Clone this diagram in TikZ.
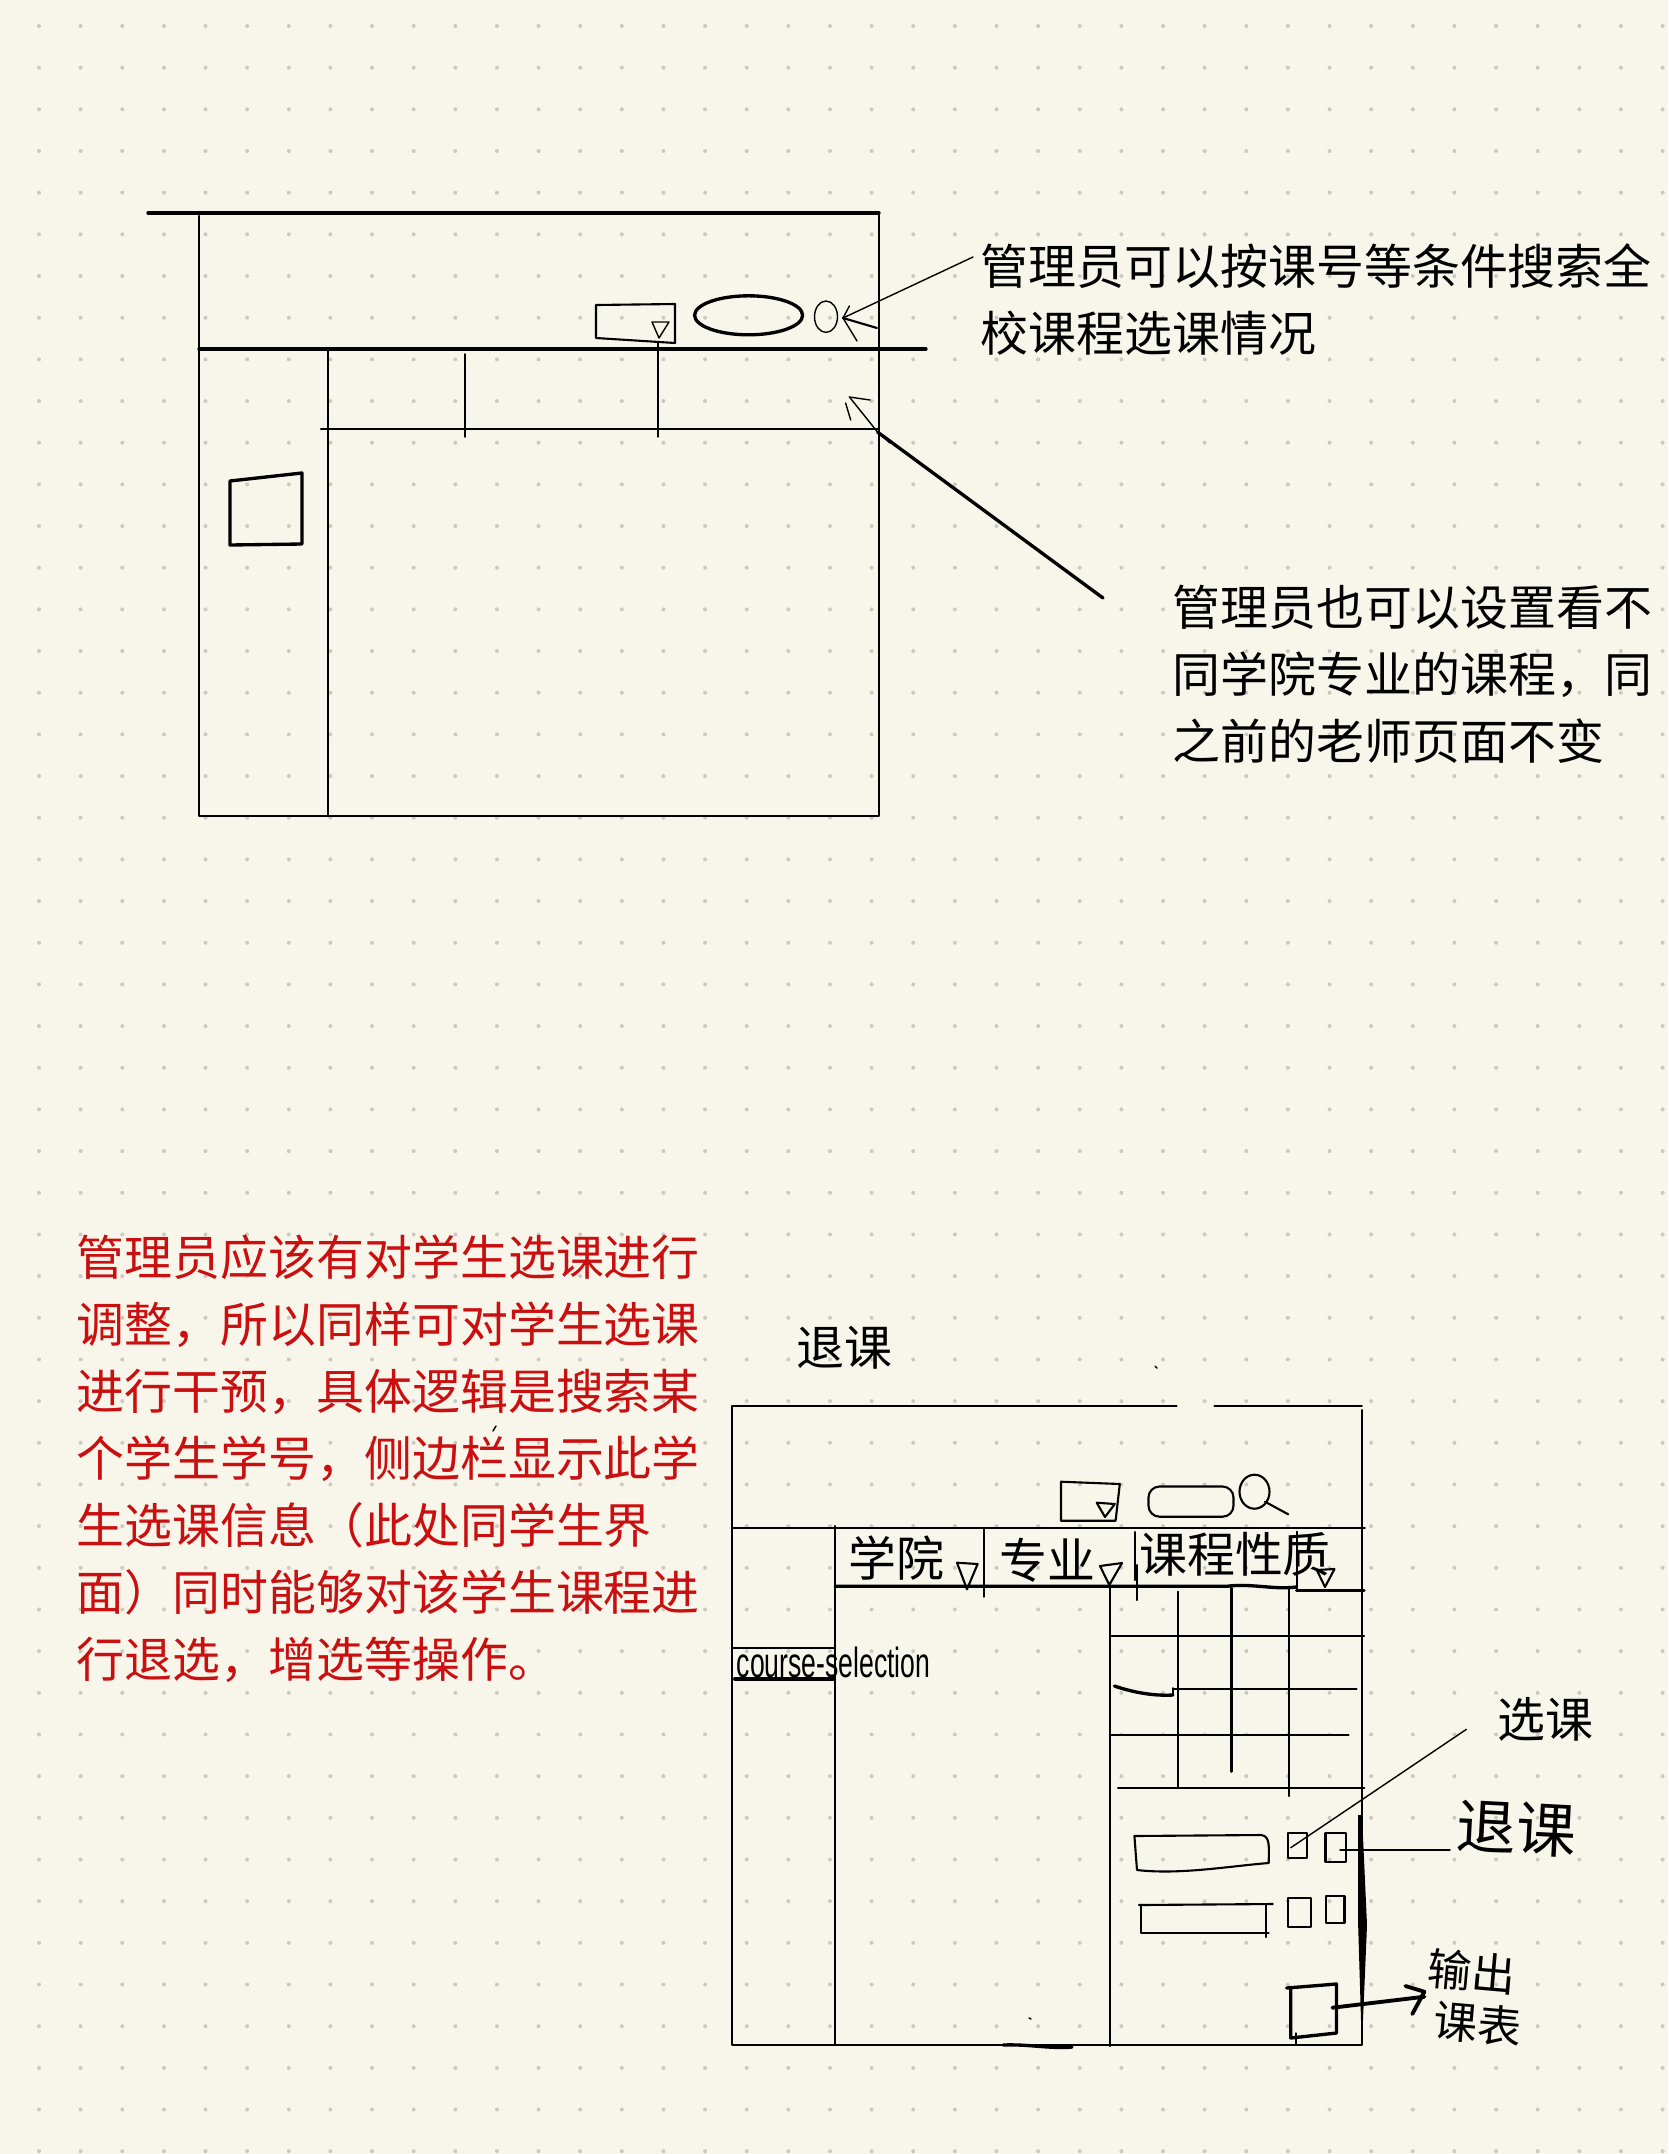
\documentclass[tikz,border=0pt]{standalone}
\usepackage{fontspec}
\setmainfont{Noto Sans CJK SC}
\newfontfamily\mainlatine{Liberation Sans}
\definecolor{fondpapier}{HTML}{F8F6EA}
\definecolor{pointpapier}{HTML}{CBC9C0}
\definecolor{rougenote}{HTML}{C90F0F}
\tikzset{
  trait/.style={line width=0.6pt,line cap=round,line join=round},
  traitfin/.style={line width=0.4pt,line cap=round,line join=round},
  traitmoyen/.style={line width=0.78pt,line cap=round,line join=round},
  traitfort/.style={line width=0.95pt,line cap=round,line join=round},
  note/.style={anchor=west,align=left,inner sep=0pt,
    font=\fontsize{13.63}{19.05}\selectfont},
  manuscrit/.style={inner sep=0pt,font=\fontsize{12.5}{12.5}\selectfont}
}
\begin{document}
\begin{tikzpicture}[x=0.01cm,y=-0.01cm]

% Fond de papier
\fill[fondpapier] (0,0) rectangle (1668,2154);
\useasboundingbox (0,0) rectangle (1668,2154);
\foreach \i in {0,...,39}
{
    \foreach \j in {0,...,51}
    {
        \fill[pointpapier]
        ({39+41.63*\i},{26+41.67*\j})
        circle (2);
    }
}

% Premiere page
\draw[traitfort]
(148,213)
--
(879,213);

\draw[traitmoyen]
(879,213)
--
(879,816)
--
(199,816)
--
(199,216);

\draw[traitfort]
(199,349)
--
(926,349);

\draw[traitmoyen]
(328,349)
--
(328,816);

\draw[trait]
(321,429)
--
(879,429);

\draw[traitfin] (465,354) -- (465,437);
\draw[traitfin] (658,342) -- (658,437);

% Menu et recherche
\draw[trait]
(596,305)
--
(675,304)
--
(675,343)
--
(596,338)
--
cycle;

\draw[traitfin]
(652,322)
--
(669,322)
--
(659,338)
--
cycle;

\draw[traitfort]
(748.6,315.3)
ellipse (54 and 19.5);

\draw[traitfin]
(826,316.7)
ellipse (11.5 and 15.7);

% Carre du menu lateral
\draw[traitfort]
(230,481)
--
(302,473)
--
(302,544)
--
(230,545)
--
cycle;

% Notes
\node[note] (noteRecherche) at (980,300)
{管理员可以按课号等条件搜索全\\校课程选课情况};

\node[note] (noteFiltre) at (1172,674)
{管理员也可以设置看不\\同学院专业的课程，同\\之前的老师页面不变};

\node[note,text=rougenote] (noteRouge) at (76,1459)
{管理员应该有对学生选课进行\\调整，所以同样可对学生选课\\进行干预，具体逻辑是搜索某\\个学生学号，侧边栏显示此学\\生选课信息（此处同学生界\\面）同时能够对该学生课程进\\行退选，增选等操作。};

% Fleches des notes
\coordinate (departRecherche) at (973,257);
\coordinate (pointeRecherche) at (843,318);
\coordinate (departFiltre) at (1103,598);
\coordinate (coinFiltre) at (877.5,432);
\coordinate (pointeFiltre) at (849.4,397);

\draw[traitfin] (departRecherche) -- (pointeRecherche);
\draw[trait] (pointeRecherche) -- (877,328);
\draw[traitfin] (pointeRecherche) -- (857,341);
\draw[traitfin] (pointeRecherche) -- (849.4,306);

\draw[traitfort] (departFiltre) -- (coinFiltre);
\draw[traitfin] (coinFiltre) -- (pointeFiltre);
\draw[traitfin] (coinFiltre) -- (890,443);
\draw[traitfin] (pointeFiltre) -- (870,400);
\draw[traitfin] (845.6,403) -- (850.7,420);

% Seconde page
\node[note] (titreRetrait) at (796,1348) {退课};

\draw[trait]
(1176.6,1405.7)
--
(732,1405.7)
--
(732,2045)
--
(1361.7,2045)
--
(1361.7,1410);

\draw[trait]
(1214.5,1405.7)
--
(1361.8,1405.7);

\draw[trait]
(732,1527.7)
--
(1364.8,1527.7);

\draw[trait]
(835.3,1526)
--
(835.3,2045);

\draw[trait]
(732,1647.7)
--
(834.5,1647.7);

\draw[traitfort]
(734.7,1679)
--
(834.5,1679);

\draw[trait]
(1110,1588)
--
(1110,2046);

% Barre des filtres
\draw[traitfort]
(835.3,1586.3)
--
(1227,1586.3)
.. controls (1250,1583) and (1275,1590) .. (1296,1587);

\draw[traitfort]
(1296.6,1590.7)
--
(1364,1590.7);

\draw[trait] (1296.6,1531.7) -- (1296.6,1590.7);
\draw[trait] (984,1529) -- (984,1596.7);
\draw[trait] (1134.6,1532) -- (1134.6,1580);
\draw[trait] (1136.7,1565) -- (1136.7,1600);

\node[note,anchor=center] (filtreCollege) at (896,1558) {学院};
\node[note,anchor=center] (filtreSpecialite) at (1047,1560) {专业};
\node[note,anchor=center] (filtreNature) at (1235,1554) {课程性质};

\foreach \a/\b/\c/\d/\e/\f in {957/1562.7/977.6/1564/967/1589.3,
    1100/1566/1122/1563/1109.3/1585,
    1316.8/1570/1334.5/1569/1325/1587}
{
    \draw[trait]
    (\a,\b)
    --
    (\c,\d)
    --
    (\e,\f)
    --
    cycle;
}

% Menu et recherche du haut
\draw[trait]
(1061,1481.7)
--
(1119.8,1484)
--
(1115.6,1520.7)
--
(1061,1520.7)
--
cycle;

\draw[trait]
(1096.7,1502.7)
--
(1114.8,1504)
--
(1105,1517)
--
cycle;

\draw[trait,rounded corners=0.11cm]
(1148.5,1486.5)
--
(1233.5,1486.5)
--
(1233.5,1516.7)
--
(1148.5,1516.7)
--
cycle;

\draw[trait]
(1254.5,1491.7)
ellipse (15 and 17);

\draw[trait]
(1265,1501.7)
--
(1288.2,1514.3);

% Grille du tableau
\foreach \x/\debut/\fin in {1177.8/1591.7/1788,1231.5/1588/1771.7,1289.4/1586.7/1796}
{
    \draw[trait] (\x,\debut) -- (\x,\fin);
}

\foreach \y/\debut/\fin in {1636/1111.7/1364,1688.7/1173/1356.5,1735/1110/1348.6,1788.3/1118/1364.4}
{
    \draw[trait] (\debut,\y) -- (\fin,\y);
}

\draw[traitfort]
(1114.4,1686)
.. controls (1135,1693) and (1155,1696) .. (1173,1695);

\draw[traitfin] (1173,1688) -- (1173,1695);

% Lignes de cours
\draw[trait]
(1134.4,1836)
--
(1261,1835)
.. controls (1270,1836) and (1269,1845) .. (1268.7,1863)
.. controls (1230,1866) and (1180,1875) .. (1137,1870)
--
cycle;

\draw[trait]
(1139,1905)
--
(1272.8,1904);

\draw[trait]
(1141,1905)
--
(1141,1932.7)
--
(1268.7,1932.7);

\draw[trait]
(1266,1905)
--
(1266,1937);

\foreach \a/\b/\c/\d in {1287.6/1833.3/1307/1858,1325.5/1833/1346/1861.7,
    1288/1898/1311/1926.7,1326/1896/1344.5/1923}
{
    \draw[trait]
    (\a,\b)
    rectangle
    (\c,\d);
}

% Bord droit repasse
\fill
(1358,1815)
--
(1362,1815)
--
(1367,1925)
--
(1363,2020)
--
(1361,2020)
--
(1358,1920)
--
cycle;

% Bouton de sortie
\draw[traitfort]
(1286.6,1988)
--
(1336.5,1984)
--
(1336.5,2033)
--
(1290.7,2038)
--
(1290.7,1988);

\draw[traitfin] (1296,2033) -- (1296,2044);

\coordinate (departSortie) at (1332.4,2007.7);
\coordinate (pointeSortie) at (1424.4,1996.7);
\coordinate (departChoix) at (1466.4,1729.3);
\coordinate (pointeChoix) at (1290.7,1847.7);
\coordinate (departRetrait) at (1450,1850);
\coordinate (pointeRetrait) at (1340,1850);

\draw[line width=1.1pt,line cap=round]
(departSortie)
--
(pointeSortie);

\draw[line width=1.1pt,line cap=round,line join=round]
(1405.4,1986)
--
(1424.4,1991.7)
--
(1412.3,2014);

\draw[traitfin] (departChoix) -- (pointeChoix);
\draw[traitfin] (departRetrait) -- (pointeRetrait);

\node[note] (titreChoix) at (1497,1719) {选课};

% Ecriture a la main
\node[manuscrit,anchor=west,rotate=-3,font=\fontsize{17}{17}\selectfont] (ecritureRetrait) at (1456,1825) {退课};
\node[manuscrit,rotate=-5] (ecritureSortie) at (1472,1972) {输出};
\node[manuscrit,rotate=-5] (ecritureTableau) at (1478,2024) {课表};
\node[inner sep=0pt,anchor=west] (ecritureCours) at (736,1662)
{\mainlatine\fontsize{12}{12}\selectfont\scalebox{0.63}[1]{course-selection}};

% Petites traces
\draw[traitfin] (1155,1366) -- (1157,1368);
\draw[traitfin] (493,1431) -- (496,1426);
\draw[traitfin] (1029,2018) -- (1031,2019);
\draw[traitfort]
(1003,2045)
.. controls (1030,2044) and (1050,2049) .. (1072,2047);

\end{tikzpicture}
\end{document}
